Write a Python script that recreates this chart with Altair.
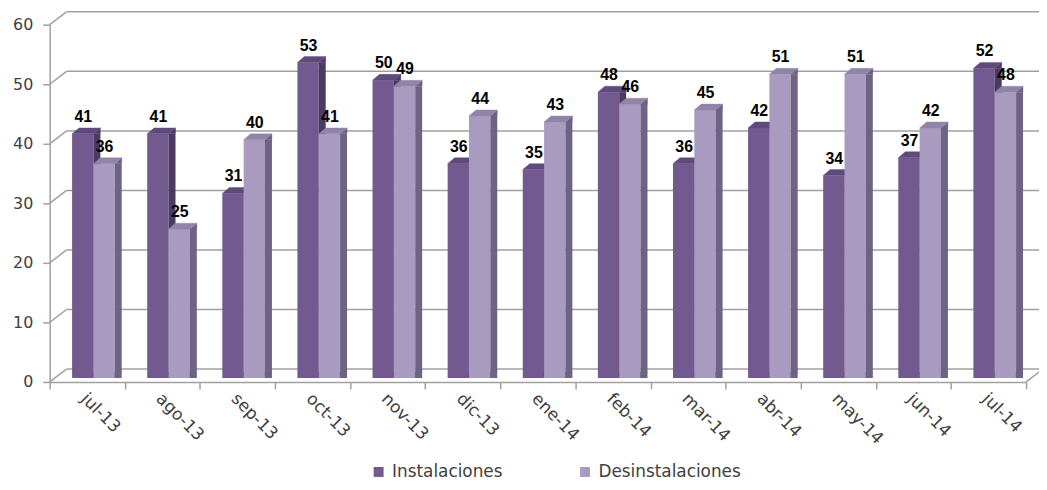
import altair as alt
import pandas as pd

# ---- data ----
months = ["jul-13", "ago-13", "sep-13", "oct-13", "nov-13", "dic-13", "ene-14",
          "feb-14", "mar-14", "abr-14", "may-14", "jun-14", "jul-14"]
instalaciones = [41, 41, 31, 53, 50, 36, 35, 48, 36, 42, 34, 37, 52]
desinstalaciones = [36, 25, 40, 41, 49, 44, 43, 46, 45, 51, 51, 42, 48]
series_names = ["Instalaciones", "Desinstalaciones"]
y_ticks = [0, 10, 20, 30, 40, 50, 60]

# ---- styling ----
W, H = 984, 360
BAR_W = 21.5
DX, DY = 7, 6          # depth of the 3D bars (px)
LIFT = 4               # bars stand slightly behind the front edge
BACK_DX, BACK_DY = 17, 13   # back wall offset
GRID = "#A0A0A0"
TXT = "#404040"
FONT = "DejaVu Sans"

styles = {
    "Instalaciones": dict(off=-4.5, face="#725990", top="#5F4A7C", side="#4B3B61"),
    "Desinstalaciones": dict(off=17.0, face="#A99BBF", top="#9284A8", side="#6D6382"),
}

df = pd.DataFrame({
    "mes": months * 2,
    "serie": [series_names[0]] * len(months) + [series_names[1]] * len(months),
    "valor": instalaciones + desinstalaciones,
})
grid_df = pd.DataFrame({"v": y_ticks})

x_axis = alt.Axis(
    title=None, labelAngle=45, labelAlign="left", labelBaseline="middle",
    labelFont=FONT, labelFontSize=17, labelColor=TXT, tickBand="extent",
    tickSize=7, tickColor=GRID, tickWidth=1.5, domainColor=GRID, domainWidth=1.5,
    labelPadding=7, labelOffset=-4, grid=False)
y_axis = alt.Axis(
    values=y_ticks, title=None, grid=False, tickSize=7, labelPadding=10,
    labelFont=FONT, labelFontSize=16, labelColor=TXT,
    domainColor=GRID, domainWidth=1.5, tickColor=GRID, tickWidth=1.5)

x_scale = alt.Scale(paddingInner=0, paddingOuter=0)
y_scale = alt.Scale(domain=[0, 60], nice=False, zero=True)
x_enc = alt.X("mes:N", sort=months, axis=x_axis, scale=x_scale)
y_enc = alt.Y("valor:Q", scale=y_scale, axis=y_axis)
y_grid = alt.Y("v:Q", scale=y_scale, axis=y_axis)

# ---- walls / grid ----
back_lines = alt.Chart(grid_df).mark_rule(
    color=GRID, strokeWidth=1.5, yOffset=-BACK_DY
).encode(y=y_grid, x=alt.value(BACK_DX), x2=alt.value(W + 13))
diag_lines = alt.Chart(grid_df).mark_rule(
    color=GRID, strokeWidth=1.5, y2Offset=-BACK_DY
).encode(y=y_grid, y2="v:Q", x=alt.value(0), x2=alt.value(BACK_DX))
floor_right = alt.Chart(grid_df).transform_filter(alt.datum.v == 0).mark_rule(
    color=GRID, strokeWidth=1.5, y2Offset=-BACK_DY
).encode(y=y_grid, y2="v:Q", x=alt.value(W), x2=alt.value(W + BACK_DX))

color_enc = alt.Color("serie:N", scale=alt.Scale(
    domain=series_names, range=[styles[s]["face"] for s in series_names]),
    legend=alt.Legend(
        title=None, orient="none", legendX=323, legendY=442, direction="horizontal",
        symbolType="square", symbolSize=100, symbolStrokeWidth=0, labelOffset=5,
        labelFont=FONT, labelFontSize=17, labelColor=TXT, columnPadding=74,
        padding=0))


def series_layers(name):
    st = styles[name]
    off = st["off"]
    L = off - BAR_W / 2
    R = off + BAR_W / 2
    T = -LIFT
    base = alt.Chart(df).transform_filter(alt.datum.serie == name)
    face = base.mark_bar(width=BAR_W, xOffset=off, yOffset=-LIFT, y2Offset=-LIFT).encode(
        x=x_enc, y=y_enc, color=color_enc)
    side = base.mark_bar(width=DX, xOffset=R + DX / 2, yOffset=-LIFT,
                         y2Offset=-LIFT - DY, color=st["side"]).encode(x=x_enc, y=y_enc)
    tri_top = f"M{R},{T} L{R + DX},{T - DY} L{R + DX},{T} Z"
    side_top = base.mark_point(shape=tri_top, size=4, filled=True, fill=st["side"],
                               stroke=st["side"], strokeWidth=0.4, opacity=1).encode(
        x=x_enc, y=y_enc)
    tri_bot = f"M{R},{T - DY} L{R},{T} L{R + DX},{T - DY} Z"
    side_bot = base.mark_point(shape=tri_bot, size=4, filled=True, fill=st["side"],
                               stroke=st["side"], strokeWidth=0.4, opacity=1).encode(
        x=x_enc, y=alt.Y(datum=0, scale=y_scale, axis=y_axis))
    cap = f"M{L},{T} L{R},{T} L{R + DX},{T - DY} L{L + DX},{T - DY} Z"
    top = base.mark_point(shape=cap, size=4, filled=True, fill=st["top"],
                          stroke=st["top"], strokeWidth=0.4, opacity=1).encode(
        x=x_enc, y=y_enc)
    return [face, side, side_top, side_bot, top]


def label_layer(name):
    st = styles[name]
    return alt.Chart(df).transform_filter(alt.datum.serie == name).mark_text(
        font="Liberation Sans", fontSize=16, fontWeight="bold", color="black",
        align="center", baseline="alphabetic", xOffset=st["off"] + 0.5,
        yOffset=-LIFT - DY - 6).encode(x=x_enc, y=y_enc, text="valor:Q")


layers = [back_lines, diag_lines, floor_right]
layers += series_layers("Instalaciones")
layers += series_layers("Desinstalaciones")
layers += [label_layer("Instalaciones"), label_layer("Desinstalaciones")]

chart = alt.layer(*layers).properties(
    width=W, height=H,
    padding={"left": 42, "top": 15, "right": 13, "bottom": 99},
    autosize=alt.AutoSizeParams(type="none"),
    background="white",
).configure_view(stroke=None)

chart.save("out.html", embed_options={"renderer": "svg", "actions": False})
